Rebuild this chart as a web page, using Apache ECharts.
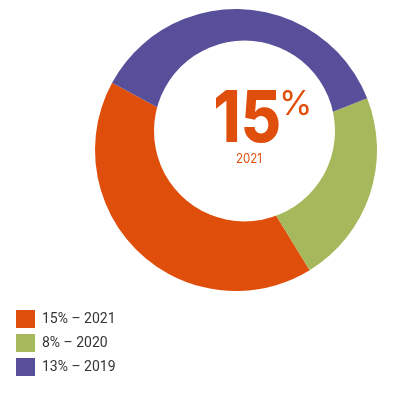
<!DOCTYPE html>
<html>
<head>
<meta charset="utf-8">
<script src="https://cdn.jsdelivr.net/npm/echarts@6/dist/echarts.min.js"></script>
<style>
html,body{margin:0;padding:0;background:#fff;}
#chart{width:393px;height:396px;}
</style>
</head>
<body>
<div id="chart"></div>
<script>
const years = ['2021', '2020', '2019'];
const values = [15, 8, 13];
const colors = ['#E04E0B', '#A5B85C', '#574F9A'];
const centerValue = '15';
const centerUnit = '%';
const centerYear = '2021';

const chart = echarts.init(document.getElementById('chart'), null, {renderer: 'canvas'});
const data = years.map((y, i) => ({name: y, value: values[i], itemStyle: {color: colors[i]}}));

chart.setOption({
  animation: false,
  legend: {
    orient: 'vertical',
    left: 16,
    top: 310,
    padding: 0,
    itemWidth: 19,
    itemHeight: 18,
    itemGap: 6,
    icon: 'rect',
    selectedMode: false,
    data: years,
    formatter: name => values[years.indexOf(name)] + '% – ' + name,
    textStyle: {fontFamily: 'Roboto', fontSize: 14, color: '#333333', padding: [0, 0, 0, 2]}
  },
  series: [{
    type: 'pie',
    center: [236, 150],
    radius: [0, 141],
    startAngle: 151.5,
    clockwise: false,
    silent: true,
    label: {show: false},
    labelLine: {show: false},
    emphasis: {disabled: true},
    data: data
  }],
  graphic: [
    {type: 'circle', shape: {cx: 244.5, cy: 131, r: 90.5}, style: {fill: '#ffffff'}, z: 10},
    {type: 'text', x: 281, y: 120, scaleX: 0.86, z: 11, style: {text: centerValue, fill: '#E04E0B', font: '800 72px Inter', textAlign: 'right', textVerticalAlign: 'middle'}},
    {type: 'text', x: 279, y: 105, z: 11, style: {text: centerUnit, fill: '#E04E0B', font: '400 34px Inter', textAlign: 'left', textVerticalAlign: 'middle'}},
    {type: 'text', x: 249, y: 159, scaleX: 0.85, z: 11, style: {text: centerYear, fill: '#E04E0B', font: '400 13.5px Inter', textAlign: 'center', textVerticalAlign: 'middle'}}
  ]
});
</script>
</body>
</html>
